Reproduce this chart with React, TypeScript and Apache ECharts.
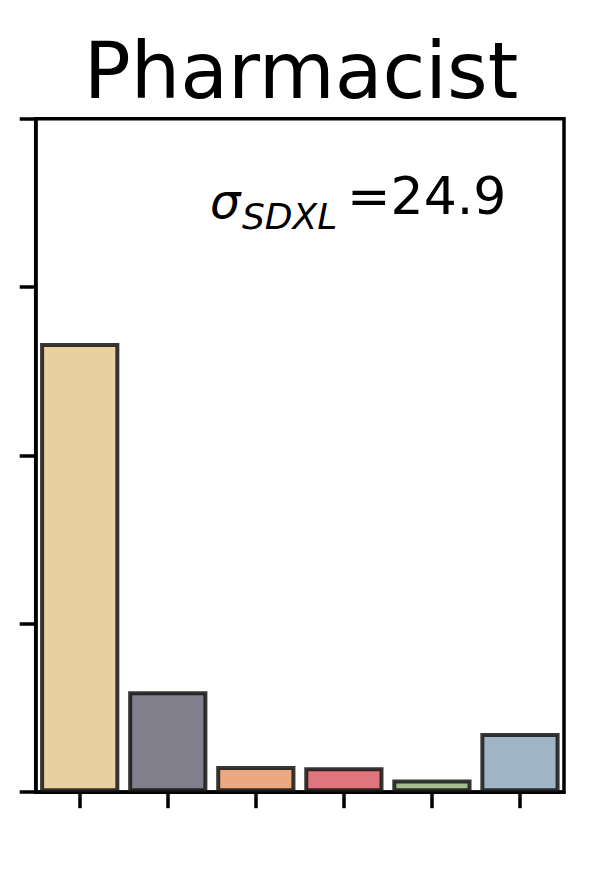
import React, { useEffect, useRef } from "react";
import * as echarts from "echarts";

const categories = ["1", "2", "3", "4", "5", "6"];
const values = [66.7, 15.0, 3.9, 3.7, 1.9, 8.8];
const barColors = ["#E8D1A1", "#817F8C", "#EAA981", "#E0757E", "#A2BE8F", "#9FB4C4"];
const titleText = "Pharmacist";
const sigmaLabel = "σ";
const sigmaSub = "SDXL";
const sigmaValue = "=24.9";
const yMin = 0;
const yMax = 100;
const yInterval = 25;

const FONT = "'DejaVu Sans', sans-serif";

export default function App() {
  const ref = useRef<HTMLDivElement>(null);
  useEffect(() => {
    if (!ref.current) return;
    const chart = echarts.init(ref.current, undefined, { renderer: "svg" });
    chart.setOption({
      animation: false,
      backgroundColor: "#ffffff",
      grid: {
        left: 35.7,
        right: 34,
        top: 118.7,
        bottom: 79.8,
        show: true,
        borderColor: "#000",
        borderWidth: 3.5,
        backgroundColor: "transparent",
      },
      xAxis: {
        type: "category",
        data: categories,
        axisLine: { show: true, lineStyle: { color: "#000", width: 3.5 } },
        axisTick: { show: true, alignWithLabel: true, length: 16, lineStyle: { color: "#000", width: 3.5 } },
        axisLabel: { show: false },
        splitLine: { show: false },
      },
      yAxis: {
        type: "value",
        min: yMin,
        max: yMax,
        interval: yInterval,
        axisLine: { show: true, lineStyle: { color: "#000", width: 3.5 } },
        axisTick: { show: true, length: 16, lineStyle: { color: "#000", width: 3.5 } },
        axisLabel: { show: false },
        splitLine: { show: false },
      },
      series: [
        {
          type: "bar",
          data: values.map((v, i) => ({
            value: v,
            itemStyle: { color: barColors[i] },
          })),
          barCategoryGap: "10%",
          itemStyle: { borderColor: "rgba(20,20,20,0.85)", borderWidth: 4 },
          z: 1,
        },
      ],
      graphic: [
        {
          type: "text",
          x: 301,
          y: 70.5,
          style: {
            text: titleText,
            font: `78px ${FONT}`,
            fill: "#000",
            textAlign: "center",
            textVerticalAlign: "middle",
          },
        },
        {
          type: "text",
          x: 210,
          y: 200.6,
          style: {
            text: sigmaLabel,
            font: `italic 48px ${FONT}`,
            fill: "#000",
            textAlign: "left",
            textVerticalAlign: "middle",
          },
        },
        {
          type: "text",
          x: 242,
          y: 216.2,
          style: {
            text: sigmaSub,
            font: `italic 36px ${FONT}`,
            fill: "#000",
            textAlign: "left",
            textVerticalAlign: "middle",
          },
        },
        {
          type: "text",
          x: 347,
          y: 196.4,
          style: {
            text: sigmaValue,
            font: `52px ${FONT}`,
            fill: "#000",
            textAlign: "left",
            textVerticalAlign: "middle",
          },
        },
      ],
    });
    return () => chart.dispose();
  }, []);
  return (
    <div
      ref={ref}
      style={{ position: "absolute", left: 0, top: 0, width: 598, height: 872, background: "#fff" }}
    />
  );
}
